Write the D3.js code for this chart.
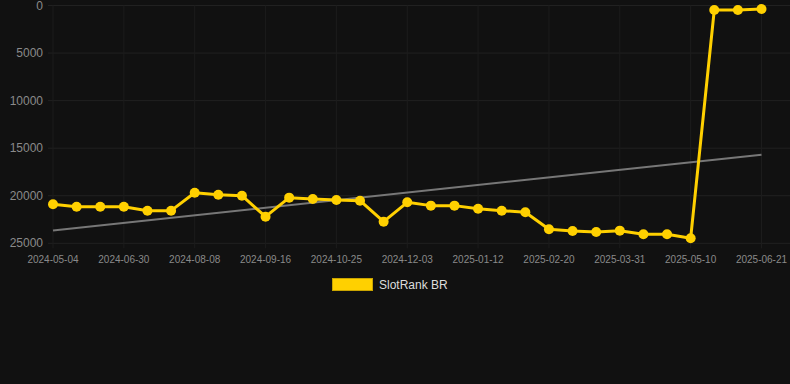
<!DOCTYPE html>
<html lang="en">
<head>
    <meta charset="UTF-8">
    <title>SlotRank BR</title>
    <style>
        body {
            margin: 0;
            background-color: #111111;
            font-family: "Liberation Sans", Arial, sans-serif;
        }
    </style>
    <script src="https://d3js.org/d3.v7.min.js"></script>
</head>
<body>
    <div id="chart"></div>

    <script>
        // rank per snapshot date (lower is better, axis is reversed)
        const dates = [
            "2024-05-04", "2024-05-23", "2024-06-11", "2024-06-30", "2024-07-13", "2024-07-26",
            "2024-08-08", "2024-08-21", "2024-09-03", "2024-09-16", "2024-09-29", "2024-10-12",
            "2024-10-25", "2024-11-07", "2024-11-20", "2024-12-03", "2024-12-16", "2024-12-29",
            "2025-01-12", "2025-01-25", "2025-02-07", "2025-02-20", "2025-03-05", "2025-03-18",
            "2025-03-31", "2025-04-13", "2025-04-26", "2025-05-10", "2025-05-24", "2025-06-07",
            "2025-06-21"
        ];
        const ranks = [
            20900, 21150, 21150, 21150, 21570, 21570,
            19680, 19890, 20000, 22200, 20200, 20340,
            20450, 20520, 22730, 20690, 21040, 21040,
            21360, 21570, 21740, 23530, 23710, 23810,
            23670, 24050, 24050, 24470, 470, 470,
            370
        ];
        const yTicks = [0, 5000, 10000, 15000, 20000, 25000];
        const seriesName = "SlotRank BR";

        const width = 790;
        const height = 384;
        const plotLeft = 53, plotRight = 761.5, plotTop = 5.5, plotBottom = 243.3;

        const svg = d3.select("#chart").append("svg")
            .attr("width", width)
            .attr("height", height);

        const x = d3.scalePoint().domain(dates).range([plotLeft, plotRight]);
        const y = d3.scaleLinear().domain([0, 25000]).range([plotTop, plotBottom]);

        // horizontal grid + y labels
        svg.append("g")
            .selectAll("line")
            .data(yTicks)
            .enter().append("line")
            .attr("x1", plotLeft - 5)
            .attr("x2", width)
            .attr("y1", d => y(d))
            .attr("y2", d => y(d))
            .attr("stroke", "#212121")
            .attr("stroke-width", 1);

        svg.append("g")
            .selectAll("text")
            .data(yTicks)
            .enter().append("text")
            .attr("x", 43)
            .attr("y", d => y(d))
            .attr("text-anchor", "end")
            .attr("dominant-baseline", "central")
            .attr("font-size", "12px")
            .attr("fill", "#8a8a8a")
            .text(d => d);

        // x ticks: every third label is shown
        const shown = dates.filter((d, i) => i % 3 === 0);

        svg.append("g")
            .selectAll("line")
            .data(shown)
            .enter().append("line")
            .attr("x1", d => x(d))
            .attr("x2", d => x(d))
            .attr("y1", plotTop)
            .attr("y2", plotBottom + 5)
            .attr("stroke", "#1c1c1c")
            .attr("stroke-width", 1);

        svg.append("g")
            .selectAll("text")
            .data(shown)
            .enter().append("text")
            .attr("x", d => x(d))
            .attr("y", 259)
            .attr("text-anchor", "middle")
            .attr("dominant-baseline", "central")
            .attr("font-size", "10px")
            .attr("fill", "#8a8a8a")
            .text(d => d);

        // least squares trend over the index
        const n = ranks.length;
        const mx = d3.mean(d3.range(n));
        const my = d3.mean(ranks);
        const slope = d3.sum(ranks, (v, i) => (i - mx) * (v - my)) / d3.sum(d3.range(n), i => (i - mx) * (i - mx));
        const icpt = my - slope * mx;

        svg.append("line")
            .attr("x1", x(dates[0]))
            .attr("y1", y(icpt))
            .attr("x2", x(dates[n - 1]))
            .attr("y2", y(icpt + slope * (n - 1)))
            .attr("stroke", "#777777")
            .attr("stroke-width", 2);

        const line = d3.line()
            .x((d, i) => x(dates[i]))
            .y(d => y(d));

        svg.append("path")
            .datum(ranks)
            .attr("d", line)
            .attr("fill", "none")
            .attr("stroke", "#ffd000")
            .attr("stroke-width", 3)
            .attr("stroke-linejoin", "round");

        svg.append("g")
            .selectAll("circle")
            .data(ranks)
            .enter().append("circle")
            .attr("cx", (d, i) => x(dates[i]))
            .attr("cy", d => y(d))
            .attr("r", 5)
            .attr("fill", "#ffd000");

        // legend
        svg.append("rect")
            .attr("x", 332.5)
            .attr("y", 278.5)
            .attr("width", 40)
            .attr("height", 12)
            .attr("fill", "#ffd000")
            .attr("stroke", "#c9a400")
            .attr("stroke-width", 1);

        svg.append("text")
            .attr("x", 379)
            .attr("y", 285)
            .attr("dominant-baseline", "central")
            .attr("font-size", "12px")
            .attr("fill", "#dddddd")
            .text(seriesName);
    </script>
</body>
</html>
